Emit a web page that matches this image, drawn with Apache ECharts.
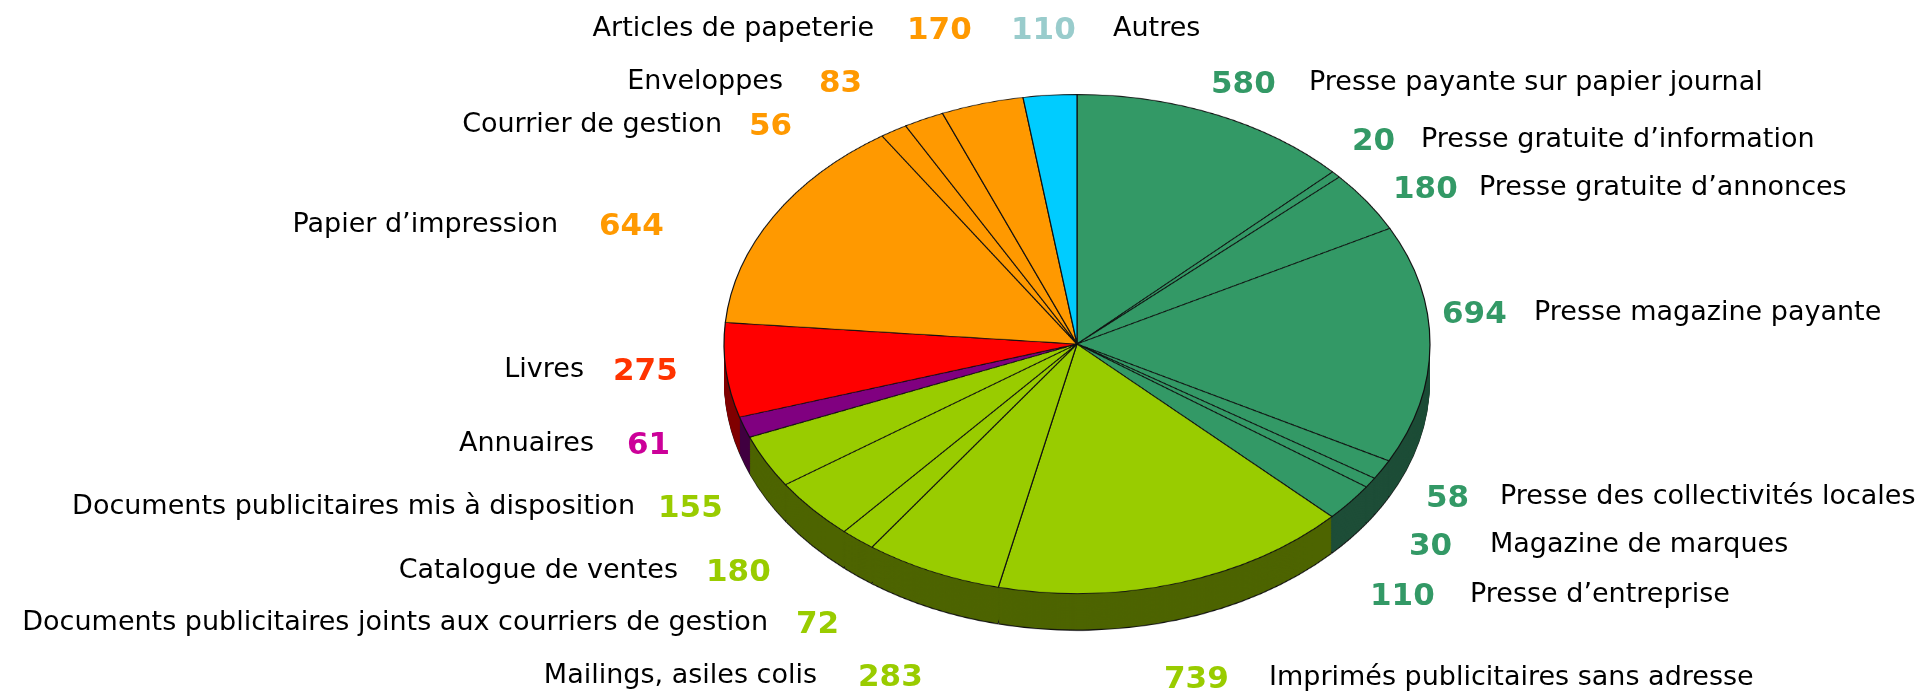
<!DOCTYPE html>
<html>
<head>
<meta charset="utf-8">
<script src="https://cdn.jsdelivr.net/npm/echarts@6/dist/echarts.min.js"></script>
<style>
    html, body { margin: 0; padding: 0; background: #fff; }
    #wrap { position: relative; width: 1921px; height: 691px; overflow: hidden; }
    #pie { position: absolute; left: 0; top: 0; width: 1921px; transform-origin: 0 0; }
    #labels { position: absolute; left: 0; top: 0; width: 1921px; height: 691px; }
</style>
</head>
<body>
<div id="wrap">
    <div id="pie"></div>
    <div id="labels"></div>
</div>
<script>
// Slices, clockwise from 12 o'clock
var sliceNames = [
    'Presse payante sur papier journal',
    'Presse gratuite d\u2019information',
    'Presse gratuite d\u2019annonces',
    'Presse magazine payante',
    'Presse des collectivités locales',
    'Magazine de marques',
    'Presse d\u2019entreprise',
    'Imprimés publicitaires sans adresse',
    'Mailings, asiles colis',
    'Documents publicitaires joints aux courriers de gestion',
    'Catalogue de ventes',
    'Documents publicitaires mis à disposition',
    'Annuaires',
    'Livres',
    'Papier d\u2019impression',
    'Courrier de gestion',
    'Enveloppes',
    'Articles de papeterie',
    'Autres'
];
var sliceValues = [580, 20, 180, 694, 58, 30, 110, 739, 283, 72, 180, 155, 61, 275, 644, 56, 83, 170, 110];

// Colours (top face, side wall, value label)
var GREEN = '#339966', LIME = '#99cc00', ORANGE = '#ff9900';
var topColors = [GREEN, GREEN, GREEN, GREEN, GREEN, GREEN, GREEN, LIME, LIME, LIME, LIME, LIME,
    '#800080', '#ff0000', ORANGE, ORANGE, ORANGE, ORANGE, '#00ccff'];
var wallColors = ['#1d4d37', '#1d4d37', '#1d4d37', '#1d4d37', '#1d4d37', '#1d4d37', '#1d4d37',
    '#4d6400', '#4d6400', '#4d6400', '#4d6400', '#4d6400',
    '#400040', '#800000', '#804d00', '#804d00', '#804d00', '#804d00', '#006680'];
var valueColors = [GREEN, GREEN, GREEN, GREEN, GREEN, GREEN, GREEN, LIME, LIME, LIME, LIME, LIME,
    '#cc0099', '#ff3300', ORANGE, ORANGE, ORANGE, ORANGE, '#99cccc'];

// Label layout: side, name x, value x, y (left side: name right-aligned)
var labelPos = [
    ['R', 1309, 1211, 79],
    ['R', 1421, 1352, 136],
    ['R', 1479, 1393, 184],
    ['R', 1534, 1442, 309],
    ['R', 1500, 1426, 493],
    ['R', 1490, 1409, 541],
    ['R', 1470, 1370, 591],
    ['R', 1269, 1164, 674],
    ['L', 817, 858, 672],
    ['L', 768, 796, 619],
    ['L', 678, 706, 567],
    ['L', 635, 658, 503],
    ['L', 594, 627, 440],
    ['L', 584, 613, 366],
    ['L', 558, 599, 221],
    ['L', 722, 749, 121],
    ['L', 783, 819, 78],
    ['L', 874, 907, 25],
    ['R', 1113, 1011, 25]
];

// Pie geometry (screen px); the pie is drawn round and squashed by the tilt
var tilt = 0.707;
var pieCx = 1077, pieCy = 344, pieR = 353, pieDepth = 36;


var pie_element = document.getElementById('pie');
pie_element.style.height = Math.round(691 / tilt) + 'px';
pie_element.style.transform = 'scaleY(' + tilt + ')';

var pie = echarts.init(pie_element, null, { renderer: 'canvas' });

var makeData = function (colors) {
    return sliceValues.map(function (v, i) {
        return { value: v, name: sliceNames[i], itemStyle: { color: colors[i] } };
    });
};

var pieSeries = function (offset, colors, extra) {
    var s = {
        type: 'pie',
        radius: [0, pieR],
        center: [pieCx, pieCy / tilt + offset / tilt],
        startAngle: 90,
        clockwise: true,
        silent: true,
        avoidLabelOverlap: false,
        label: { show: false },
        labelLine: { show: false },
        emphasis: { disabled: true },
        itemStyle: { borderWidth: 0 },
        data: makeData(colors)
    };
    for (var k in extra) s[k] = extra[k];
    return s;
};

var series = [];
var blacks = sliceValues.map(function () { return '#111'; });

// Bottom outline
series.push(pieSeries(pieDepth + 1.2, blacks, { z: 1 }));

// Side walls, stacked from the bottom up
var step = 1;
var n = 0;
for (var off = pieDepth; off > 0; off -= step) {
    series.push(pieSeries(off, wallColors, { z: 2 + n, padAngle: 0.22 }));
    n++;
}

// Top face
series.push(pieSeries(0, topColors, {
    z: 200,
    itemStyle: { borderWidth: 1.2, borderColor: '#111' }
}));

pie.setOption({
    animation: false,
    series: series
});


// Labels
var labels = echarts.init(document.getElementById('labels'), null, { renderer: 'canvas' });

var nameFont = '27px "DejaVu Sans"';
var valueFont = 'bold 31px "DejaVu Sans"';
var graphics = [];

sliceNames.forEach(function (name, i) {
    var p = labelPos[i];
    var y = p[3];
    graphics.push({
        type: 'text',
        x: p[1],
        y: y + 4,
        style: {
            text: name,
            font: nameFont,
            fill: '#000',
            align: p[0] === 'L' ? 'right' : 'left',
            verticalAlign: 'middle'
        }
    });
    graphics.push({
        type: 'text',
        x: p[2],
        y: y + 6,
        style: {
            text: String(sliceValues[i]),
            font: valueFont,
            fill: valueColors[i],
            align: 'left',
            verticalAlign: 'middle'
        }
    });
});

labels.setOption({
    animation: false,
    graphic: graphics
});
</script>
</body>
</html>
